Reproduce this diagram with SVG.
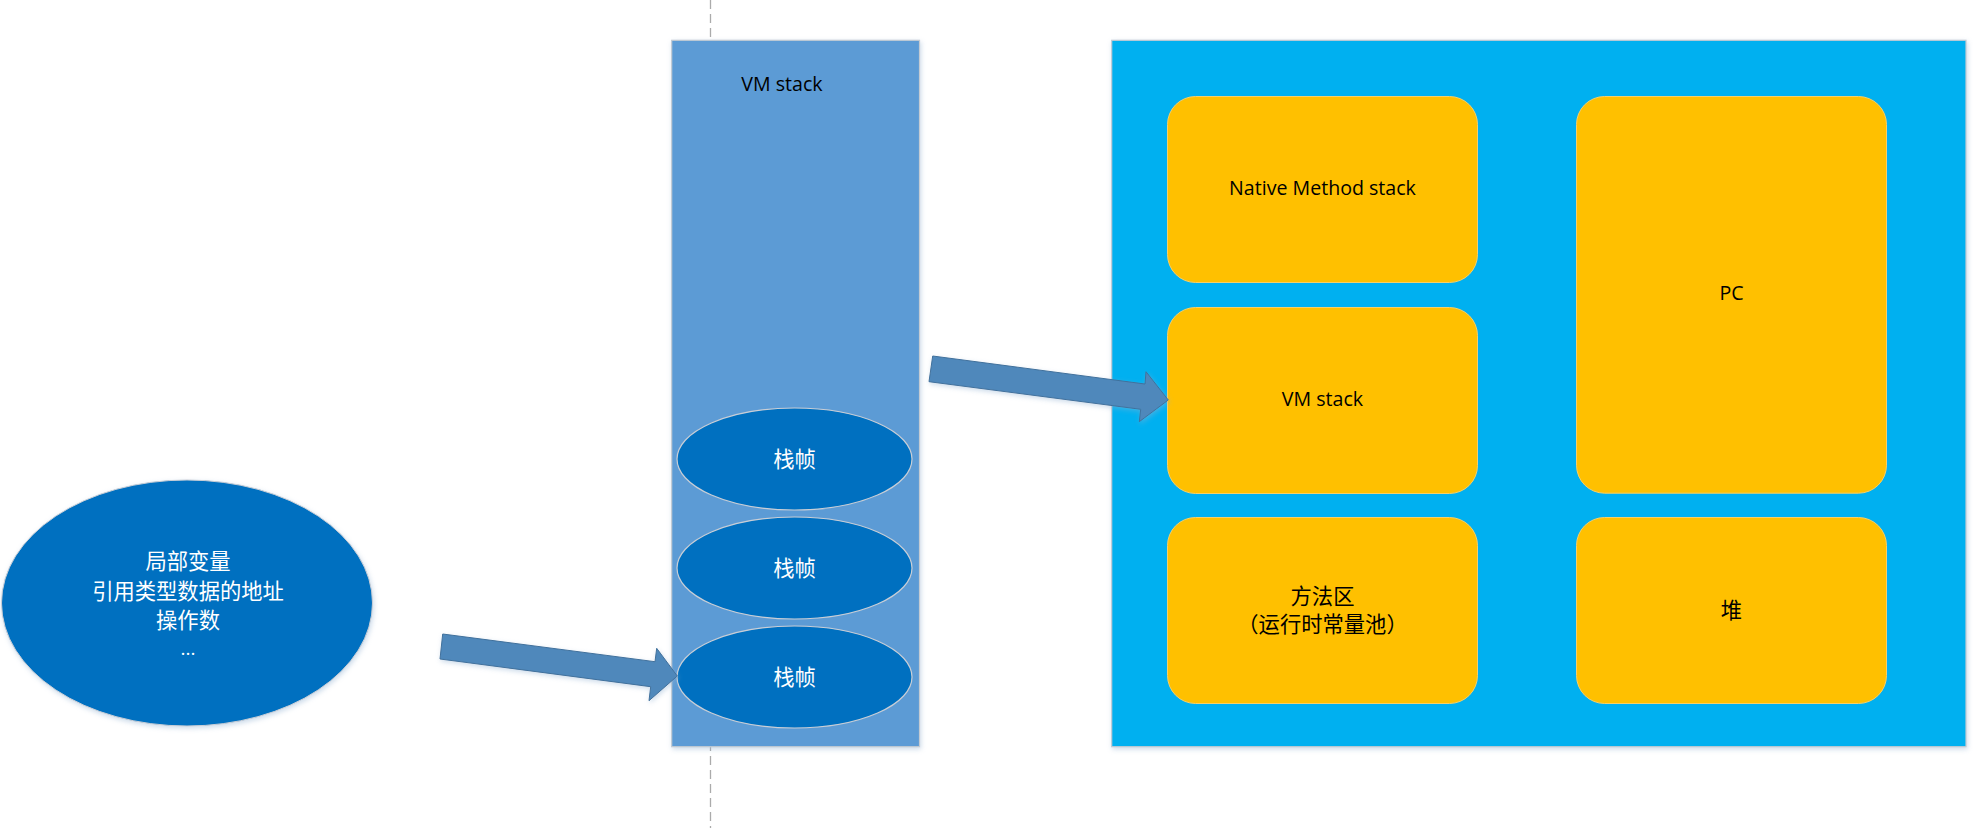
<svg xmlns="http://www.w3.org/2000/svg" width="1983" height="828" viewBox="0 0 1983 828">
<style>
.lbl{font-family:"Open Sans","Noto Sans CJK SC",sans-serif;font-size:19.6px;fill:#000;text-anchor:middle}
.cjk{font-family:"Noto Sans CJK SC",sans-serif;font-size:21.3px;text-anchor:middle;dominant-baseline:central}
.dark{fill:#000}
.white{fill:#fff}
.frame{fill:#0070C0;stroke:#C9CED6;stroke-width:1.2}
.orange{fill:#FFC000;stroke:#F5CF6A;stroke-width:1}
.arrow{fill:#4F88BB;stroke:#41719C;stroke-width:1;stroke-linejoin:miter}
</style>
<defs>
<filter id="sh" x="-10%" y="-10%" width="120%" height="120%">
<feDropShadow dx="1" dy="2" stdDeviation="2.5" flood-color="#8fb0d0" flood-opacity="0.45"/>
</filter>
</defs>
<rect width="1983" height="828" fill="#fff"/>
<line x1="710.5" y1="0" x2="710.5" y2="828" stroke="#ABABAB" stroke-width="1.3" stroke-dasharray="9 5"/>

<g id="vmstack-column">
<rect x="671.7" y="40.3" width="247.8" height="706.4" fill="#5B9BD5" stroke="#C3CBD3" stroke-width="1.2" filter="url(#sh)"/>
<text class="lbl" x="782" y="90.5">VM stack</text>
</g>
<g id="frame1">
<ellipse class="frame" cx="794.5" cy="459" rx="117.5" ry="51"/>
<text class="cjk white" x="794.5" y="457">栈帧</text>
</g>
<g id="frame2">
<ellipse class="frame" cx="794.5" cy="568" rx="117.5" ry="51"/>
<text class="cjk white" x="794.5" y="566">栈帧</text>
</g>
<g id="frame3">
<ellipse class="frame" cx="794.5" cy="677" rx="117.5" ry="51"/>
<text class="cjk white" x="794.5" y="675">栈帧</text>
</g>

<g id="locals">
<ellipse cx="187" cy="603" rx="185.5" ry="123" fill="#0070C0" stroke="#C9CED6" stroke-width="1" filter="url(#sh)"/>
<text class="cjk white" x="188" y="559.5">局部变量</text>
<text class="cjk white" x="188" y="589">引用类型数据的地址</text>
<text class="cjk white" x="188" y="618.5">操作数</text>
<text x="188" y="654.5" fill="#fff" text-anchor="middle" font-family="Open Sans, sans-serif" font-size="19px">...</text>
</g>

<g id="runtime-area">
<rect x="1111.7" y="40.3" width="854.3" height="706.4" fill="#00B0F0" stroke="#C3CBD3" stroke-width="1.2" filter="url(#sh)"/>
</g>
<g id="native-method-stack">
<rect class="orange" x="1167.5" y="96.5" width="310" height="186" rx="28" ry="28"/>
<text class="lbl" x="1322.5" y="194.5">Native Method stack</text>
</g>
<g id="vm-stack">
<rect class="orange" x="1167.5" y="307.5" width="310" height="186" rx="28" ry="28"/>
<text class="lbl" x="1322.5" y="405.5">VM stack</text>
</g>
<g id="method-area">
<rect class="orange" x="1167.5" y="517.5" width="310" height="186" rx="28" ry="28"/>
<text class="cjk dark" x="1322.5" y="594">方法区</text>
<text class="cjk dark" x="1322.5" y="622.5">（运行时常量池）</text>
</g>
<g id="pc">
<rect class="orange" x="1576.5" y="96.5" width="310" height="396.7" rx="28" ry="28"/>
<text class="lbl" x="1731.5" y="300">PC</text>
</g>
<g id="heap">
<rect class="orange" x="1576.5" y="517.5" width="310" height="186" rx="28" ry="28"/>
<text class="cjk dark" x="1731.5" y="608.5">堆</text>
</g>

<g id="connectors">
<polygon class="arrow" filter="url(#sh)" points="932.7,356 1145,384 1146,371.7 1168.3,400 1139.3,421.7 1140.7,409.3 929,381.7"/>
<polygon class="arrow" filter="url(#sh)" points="442.7,634 655,661.7 656.7,648.3 677.3,676 649,700.7 650.7,686.7 440,659"/>
</g>
</svg>
